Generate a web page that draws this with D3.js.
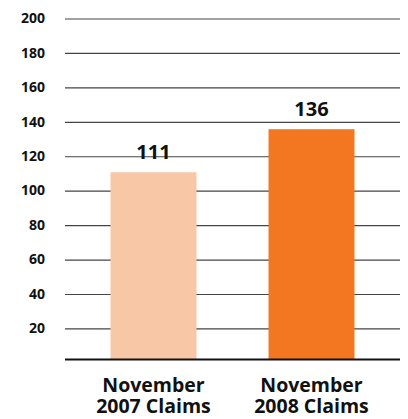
<!DOCTYPE html>
<html>
<head>
<meta charset="utf-8">
<script src="https://cdn.jsdelivr.net/npm/d3@7"></script>
<style>
  body { margin: 0; background: #fff; }
  text { font-family: "Open Sans", Lato, sans-serif; font-weight: bold; fill: #111; }
</style>
</head>
<body>
<svg id="chart" width="408" height="419"></svg>
<script>
const categories = [['November', '2007 Claims'], ['November', '2008 Claims']];
const values = [111, 136];
const colors = ['#F8C7A5', '#F37721'];
const ticks = [20, 40, 60, 80, 100, 120, 140, 160, 180, 200];

const svg = d3.select('#chart');
const plotLeft = 65, plotRight = 400, baseY = 359.5;

const y = d3.scaleLinear().domain([0, 200]).range([363.4, 19]);
const x = d3.scaleBand()
  .domain(d3.range(values.length))
  .range([plotLeft, plotRight])
  .paddingInner(0.456)
  .paddingOuter(0.288);

// grid lines
svg.append('g').selectAll('line')
  .data(ticks)
  .join('line')
  .attr('x1', plotLeft).attr('x2', plotRight)
  .attr('y1', d => y(d)).attr('y2', d => y(d))
  .attr('stroke', '#444')
  .attr('stroke-width', 1.2);

// tick labels
svg.append('g').selectAll('text')
  .data(ticks)
  .join('text')
  .attr('x', 45)
  .attr('y', d => y(d))
  .attr('dy', '0.3em')
  .attr('text-anchor', 'end')
  .style('font-size', '14px')
  .text(d => d);

// bars
svg.append('g').selectAll('rect')
  .data(values)
  .join('rect')
  .attr('x', (d, i) => x(i))
  .attr('width', x.bandwidth())
  .attr('y', d => y(d))
  .attr('height', d => baseY - y(d))
  .attr('fill', (d, i) => colors[i]);

// baseline
svg.append('line')
  .attr('x1', plotLeft).attr('x2', plotRight)
  .attr('y1', baseY).attr('y2', baseY)
  .attr('stroke', '#111')
  .attr('stroke-width', 2);

// value labels
svg.append('g').selectAll('text')
  .data(values)
  .join('text')
  .attr('x', (d, i) => x(i) + x.bandwidth() / 2)
  .attr('y', d => y(d) - 13)
  .attr('text-anchor', 'middle')
  .style('font-size', '20px')
  .text(d => d);

// category labels
const cat = svg.append('g').selectAll('text')
  .data(categories)
  .join('text')
  .attr('x', (d, i) => x(i) + x.bandwidth() / 2)
  .attr('y', 392)
  .attr('text-anchor', 'middle')
  .style('font-size', '19.5px');
cat.append('tspan').text(d => d[0]);
cat.append('tspan')
  .attr('x', (d, i) => x(i) + x.bandwidth() / 2)
  .attr('dy', 20.5)
  .text(d => d[1]);
</script>
</body>
</html>
